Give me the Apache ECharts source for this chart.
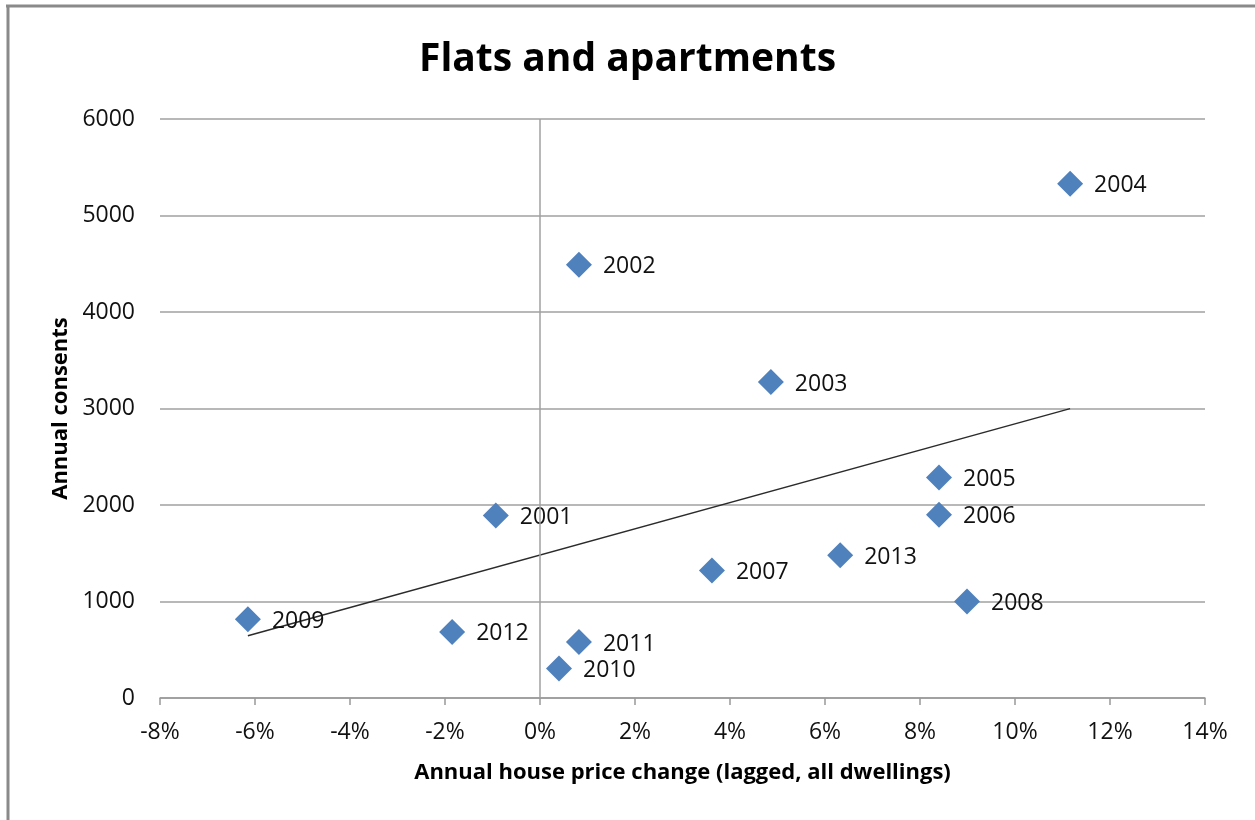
<!DOCTYPE html>
<html>
<head>
<meta charset="utf-8">
<script src="https://cdn.jsdelivr.net/npm/echarts@6/dist/echarts.min.js"></script>
<style>
  html, body { margin: 0; padding: 0; background: #fff; }
  #chart { width: 1255px; height: 820px; }
</style>
</head>
<body>
<div id="chart"></div>
<script>
// Flats and apartments: annual consents vs lagged house price change
const years = ['2001', '2002', '2003', '2004', '2005', '2006', '2007', '2008', '2009', '2010', '2011', '2012', '2013'];
const priceChange = [-0.93, 0.82, 4.86, 11.16, 8.40, 8.40, 3.62, 8.99, -6.15, 0.40, 0.82, -1.85, 6.32];
const consents = [1890, 4490, 3275, 5330, 2285, 1900, 1320, 1000, 815, 305, 580, 685, 1480];
const xTicks = { min: -8, max: 14, step: 2 };
const yTicks = { min: 0, max: 6000, step: 1000 };

const points = years.map((y, i) => ({ name: y, value: [priceChange[i], consents[i]] }));

// Least-squares linear trend over the plotted points
const n = priceChange.length;
const mx = priceChange.reduce((a, b) => a + b, 0) / n;
const my = consents.reduce((a, b) => a + b, 0) / n;
let sxy = 0, sxx = 0;
for (let i = 0; i < n; i++) {
  sxy += (priceChange[i] - mx) * (consents[i] - my);
  sxx += (priceChange[i] - mx) ** 2;
}
const slope = sxy / sxx;
const intercept = my - slope * mx;
const xLo = Math.min(...priceChange), xHi = Math.max(...priceChange);
const trend = [[xLo, intercept + slope * xLo], [xHi, intercept + slope * xHi]];

const FONT = '"Open Sans", "Noto Sans", sans-serif';
const chart = echarts.init(document.getElementById('chart'), null, { renderer: 'canvas' });
chart.setOption({
  animation: false,
  backgroundColor: '#ffffff',
  textStyle: { fontFamily: FONT },
  title: {
    text: 'Flats and apartments',
    left: 'center',
    top: 35,
    textStyle: { fontFamily: FONT, fontSize: 39, fontWeight: 'bold', color: '#000' }
  },
  graphic: [
    { type: 'line', shape: { x1: 6, y1: 6, x2: 1255, y2: 6 }, style: { stroke: '#8a8a8a', lineWidth: 3 } },
    { type: 'line', shape: { x1: 8, y1: 6, x2: 8, y2: 820 }, style: { stroke: '#8a8a8a', lineWidth: 3 } }
  ],
  grid: { left: 160, right: 50, top: 119, bottom: 122 },
  xAxis: {
    type: 'value',
    min: xTicks.min, max: xTicks.max, interval: xTicks.step,
    name: 'Annual house price change (lagged, all dwellings)',
    nameLocation: 'middle',
    nameGap: 64,
    nameTextStyle: { fontFamily: FONT, fontSize: 22, fontWeight: 'bold', color: '#000' },
    axisLine: { show: true, onZero: false, lineStyle: { color: '#999', width: 1.5 } },
    axisTick: { show: true, length: 7, lineStyle: { color: '#999', width: 1.5 } },
    axisLabel: { formatter: '{value}%', fontSize: 23, color: '#111', margin: 23 },
    splitLine: { show: false }
  },
  yAxis: {
    type: 'value',
    min: yTicks.min, max: yTicks.max, interval: yTicks.step,
    name: 'Annual consents',
    nameLocation: 'middle',
    nameGap: 86,
    nameTextStyle: { fontFamily: FONT, fontSize: 22, fontWeight: 'bold', color: '#000' },
    axisLine: { show: false },
    axisTick: { show: false },
    axisLabel: { fontSize: 23, color: '#111', margin: 25, formatter: v => String(v) },
    splitLine: { show: true, lineStyle: { color: '#a0a0a0', width: 1.5 } }
  },
  series: [
    {
      type: 'line',
      data: trend,
      showSymbol: false,
      silent: true,
      lineStyle: { color: '#2b2b2b', width: 1.5 },
      z: 1,
      markLine: {
        silent: true,
        symbol: 'none',
        label: { show: false },
        lineStyle: { color: '#a0a0a0', width: 1.5, type: 'solid' },
        data: [{ xAxis: 0 }]
      }
    },
    {
      type: 'scatter',
      data: points,
      symbol: 'diamond',
      symbolSize: [26, 26],
      itemStyle: { color: '#4f81bd', opacity: 1 },
      z: 3,
      label: {
        show: true,
        position: 'right',
        distance: 11,
        offset: [0, 2],
        formatter: p => p.name,
        fontFamily: FONT,
        fontSize: 23,
        color: '#111'
      }
    }
  ]
});
</script>
</body>
</html>
